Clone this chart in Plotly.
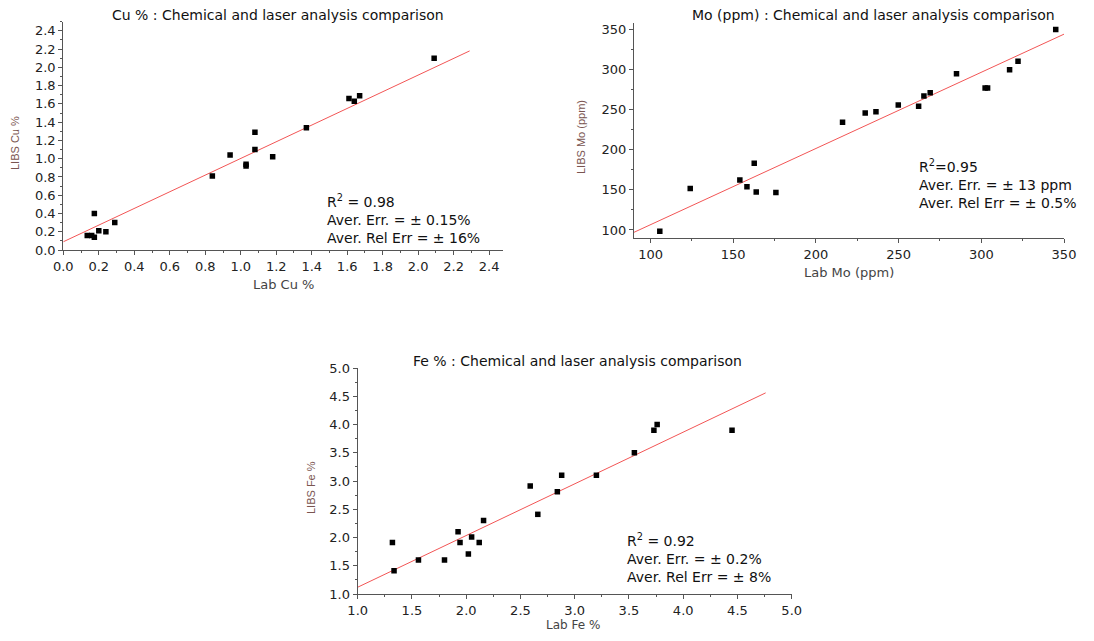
import plotly.graph_objects as go

W, H = 1094, 641
OFF = 8  # default page body margin
FW, FH = W - 2 * OFF, H - 2 * OFF

# ---------------- data ----------------
cu_lab = [0.135, 0.16, 0.175, 0.175, 0.20, 0.24, 0.29, 0.84, 0.94, 1.03, 1.03, 1.08, 1.08, 1.18, 1.37, 1.61, 1.64, 1.67, 2.09]
cu_libs = [0.16, 0.16, 0.14, 0.40, 0.21, 0.20, 0.30, 0.81, 1.04, 0.94, 0.92, 1.10, 1.29, 1.02, 1.34, 1.66, 1.63, 1.69, 2.10]
cu_fit_x = [0.0, 2.29]
cu_fit_y = [0.09, 2.18]

mo_lab = [105.6, 124, 154, 158.3, 162.7, 163.9, 175.8, 216.1, 229.8, 236.3, 249.8, 262.1, 265.3, 269.1, 285, 302.3, 303.8, 317.1, 322.2, 345]
mo_libs = [98.3, 151.6, 162.4, 154, 183.2, 147.4, 146.6, 234.4, 246, 247.3, 256, 254.3, 267.2, 271, 294.7, 277.2, 277.2, 299.7, 310.5, 350]
mo_fit_x = [90.0, 350.0]
mo_fit_y = [97.1, 344.2]

fe_lab = [1.32, 1.335, 1.56, 1.80, 1.925, 1.943, 2.02, 2.05, 2.12, 2.16, 2.59, 2.66, 2.84, 2.88, 3.20, 3.55, 3.73, 3.76, 4.45]
fe_libs = [1.91, 1.41, 1.60, 1.60, 2.10, 1.91, 1.71, 2.01, 1.91, 2.30, 2.91, 2.41, 2.81, 3.10, 3.10, 3.50, 3.90, 4.00, 3.90]
fe_fit_x = [1.0, 4.76]
fe_fit_y = [1.12, 4.56]

titles = ["Cu % : Chemical and laser analysis comparison",
          "Mo (ppm) : Chemical and laser analysis comparison",
          "Fe % : Chemical and laser analysis comparison"]
x_titles = ["Lab Cu %", "Lab Mo (ppm)", "Lab Fe %"]
y_titles = ["LIBS Cu %", "LIBS Mo (ppm)", "LIBS Fe %"]
stats = ["R<sup>2</sup> = 0.98<br>Aver. Err. = \u00b1 0.15%<br>Aver. Rel Err = \u00b1 16%",
         "R<sup>2</sup>=0.95<br>Aver. Err. = \u00b1 13 ppm<br>Aver. Rel Err = \u00b1 0.5%",
         "R<sup>2</sup> = 0.92<br>Aver. Err. = \u00b1 0.2%<br>Aver. Rel Err = \u00b1 8%"]

# ---------------- layout helpers ----------------
FONT = "DejaVu Sans, Verdana, sans-serif"
NARROW = "Liberation Sans, Arial, sans-serif"
AXC = "#555555"
TXT = "#222222"

def px_x(p):
    return (p - OFF) / FW

def px_y(p):
    return (FH - (p - OFF)) / FH

panels = [
    dict(lab=cu_lab, libs=cu_libs, fx=cu_fit_x, fy=cu_fit_y,
         xdom=[63.3, 503], ydom=[250, 21.7], xr=[0, 2.478], yr=[0, 2.5],
         xt=dict(dtick=0.2, tickformat=".1f", minor=0.1),
         yt=dict(dtick=0.2, tickformat=".1f", minor=0.1),
         title_pos=(278, 15), xtitle_pos=(283, 284), xtitle_size=13, ytitle_pos=(15, 143),
         stat_pos=(1.475, 0.66)),
    dict(lab=mo_lab, libs=mo_libs, fx=mo_fit_x, fy=mo_fit_y,
         xdom=[634, 1064], ydom=[238, 22.7], xr=[90, 350], yr=[90, 358.5],
         xt=dict(dtick=50, tickformat="d", minor=25),
         yt=dict(dtick=50, tickformat="d", minor=25),
         title_pos=(873, 15), xtitle_pos=(849, 272), xtitle_size=13, ytitle_pos=(581, 137),
         stat_pos=(260.9, 193)),
    dict(lab=fe_lab, libs=fe_libs, fx=fe_fit_x, fy=fe_fit_y,
         xdom=[357.7, 791.7], ydom=[594, 368], xr=[1, 5], yr=[1, 5],
         xt=dict(dtick=0.5, tickformat=".1f", minor=0.25),
         yt=dict(dtick=0.5, tickformat=".1f", minor=0.25),
         title_pos=(577, 361), xtitle_pos=(573, 625), xtitle_size=12, ytitle_pos=(311, 488),
         stat_pos=(3.464, 2.15)),
]

fig = go.Figure()
annotations = []
layout_axes = {}

for i, p in enumerate(panels, start=1):
    xa = "x" if i == 1 else f"x{i}"
    ya = "y" if i == 1 else f"y{i}"
    fig.add_trace(go.Scatter(x=p["fx"], y=p["fy"], mode="lines",
                             line=dict(color="#f25555", width=1),
                             xaxis=xa, yaxis=ya, showlegend=False, hoverinfo="skip"))
    fig.add_trace(go.Scatter(x=p["lab"], y=p["libs"], mode="markers",
                             marker=dict(symbol="square", size=5.5, color="black"),
                             xaxis=xa, yaxis=ya, showlegend=False))

    common = dict(showgrid=False, zeroline=False, showline=True, linecolor=AXC, linewidth=1.2,
                  ticks="outside", ticklen=4, tickcolor=AXC, tickwidth=1, automargin=False,
                  tickfont=dict(family=FONT, size=13, color=TXT), mirror=False)
    xkey = "xaxis" if i == 1 else f"xaxis{i}"
    ykey = "yaxis" if i == 1 else f"yaxis{i}"
    layout_axes[xkey] = dict(common, domain=[px_x(p["xdom"][0]), px_x(p["xdom"][1])],
                             range=p["xr"], anchor=ya, tickmode="linear",
                             tick0=0, dtick=p["xt"]["dtick"],
                             tickformat=p["xt"]["tickformat"],
                             minor=dict(dtick=p["xt"]["minor"], ticks="outside", ticklen=2,
                                        tickcolor=AXC, showgrid=False))
    layout_axes[ykey] = dict(common, domain=[px_y(p["ydom"][0]), px_y(p["ydom"][1])],
                             range=p["yr"], anchor=xa, tickmode="linear",
                             tick0=0, dtick=p["yt"]["dtick"],
                             tickformat=p["yt"]["tickformat"],
                             minor=dict(dtick=p["yt"]["minor"], ticks="outside", ticklen=2,
                                        tickcolor=AXC, showgrid=False))

    tx, ty = p["title_pos"]
    annotations.append(dict(text=titles[i - 1], xref="paper", yref="paper",
                            x=px_x(tx), y=px_y(ty), xanchor="center", yanchor="middle",
                            showarrow=False, font=dict(family=FONT, size=14, color="#111111")))
    ax_, ay_ = p["xtitle_pos"]
    annotations.append(dict(text=x_titles[i - 1], xref="paper", yref="paper",
                            x=px_x(ax_), y=px_y(ay_), xanchor="center", yanchor="middle",
                            showarrow=False,
                            font=dict(family=FONT, size=p["xtitle_size"], color="#444444")))
    bx, by = p["ytitle_pos"]
    annotations.append(dict(text=y_titles[i - 1], xref="paper", yref="paper",
                            x=px_x(bx), y=px_y(by), xanchor="center", yanchor="middle",
                            textangle=-90, showarrow=False,
                            font=dict(family=NARROW, size=11, color="#7a5550")))
    sx, sy = p["stat_pos"]
    annotations.append(dict(text=stats[i - 1], xref=xa, yref=ya, x=sx, y=sy,
                            xanchor="left", yanchor="top", align="left", showarrow=False,
                            font=dict(family=FONT, size=14, color="#111111")))

fig.update_layout(width=FW, height=FH, margin=dict(l=0, r=0, t=0, b=0, autoexpand=False),
                  paper_bgcolor="white", plot_bgcolor="white",
                  annotations=annotations, **layout_axes)

fig.write_html("out.html")
